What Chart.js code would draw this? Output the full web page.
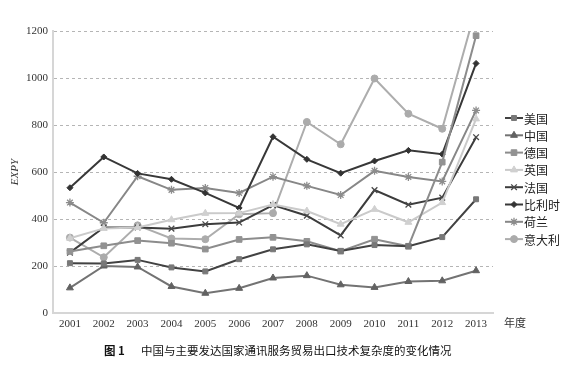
<!DOCTYPE html>
<html lang="zh">
<head>
  <meta charset="UTF-8">
  <title>中国与主要发达国家通讯服务贸易出口技术复杂度的变化情况</title>
  <script src="https://cdn.jsdelivr.net/npm/chart.js"></script>
  <style>
    body { margin: 0; background: #fff; }
    .wrap { position: relative; width: 569px; height: 367px; }
    .wrap canvas { position: absolute; left: 0; top: 0; }
    .caption {
      position: absolute; left: 104px; top: 342px;
      font-family: "Noto Sans CJK SC", sans-serif; font-size: 11.5px; color: #111;
      white-space: nowrap;
    }
    .caption b { margin-right: 16px; }
  </style>
</head>
<body>
  <div class="wrap">
    <canvas id="chart" width="569" height="367"></canvas>
    <div class="caption"><b>图 1</b>中国与主要发达国家通讯服务贸易出口技术复杂度的变化情况</div>
  </div>

  <script>
    // years on the x axis
    const years = ['2001', '2002', '2003', '2004', '2005', '2006', '2007', '2008', '2009', '2010', '2011', '2012', '2013'];

    // EXPY values
    const usa         = [212, 211, 226, 194, 177, 229, 271, 292, 264, 289, 284, 323, 484];
    const china       = [107, 200, 196, 113, 84, 105, 149, 159, 120, 109, 134, 137, 180];
    const germany     = [262, 286, 308, 297, 272, 313, 322, 305, 263, 314, 284, 642, 1180];
    const uk          = [318, 360, 364, 397, 424, 425, 462, 434, 378, 441, 386, 470, 826];
    const france      = [257, 364, 364, 359, 378, 385, 459, 414, 330, 523, 461, 491, 748];
    const belgium     = [533, 664, 594, 569, 511, 447, 750, 654, 595, 647, 692, 676, 1062];
    const netherlands = [470, 384, 582, 524, 532, 511, 580, 541, 502, 605, 579, 560, 862];
    const italy       = [321, 237, 373, 317, 314, 420, 425, 813, 718, 998, 848, 784, 1300];

    const yTicks = [0, 200, 400, 600, 800, 1000, 1200];

    function series(label, data, line, fill, style, radius) {
      return {
        label: label,
        data: data,
        borderColor: line,
        backgroundColor: fill,
        pointBackgroundColor: fill,
        pointBorderColor: fill,
        pointStyle: style,
        pointRadius: radius,
        pointBorderWidth: style === 'crossRot' || style === 'star' ? 1.3 : 1,
        borderWidth: 2,
        tension: 0,
        clip: { left: 10, right: 10, top: 0, bottom: 10 }
      };
    }

    const datasets = [
      series('美国', usa, '#424242', '#787878', 'rect', 3.5),
      series('中国', china, '#737373', '#626262', 'triangle', 4),
      series('德国', germany, '#8c8c8c', '#929292', 'rect', 4),
      series('英国', uk, '#cacaca', '#d0d0d0', 'triangle', 4),
      series('法国', france, '#3c3c3c', '#4a4a4a', 'crossRot', 4),
      series('比利时', belgium, '#383838', '#333333', 'rectRot', 3),
      series('荷兰', netherlands, '#878787', '#8c8c8c', 'star', 4),
      series('意大利', italy, '#adadad', '#ababab', 'circle', 3.5)
    ];

    // legend on the right, drawn as line + marker + label
    const sideLegend = {
      id: 'sideLegend',
      afterDraw(chart) {
        const ctx = chart.ctx;
        ctx.save();
        chart.data.datasets.forEach((ds, i) => {
          const y = 118 + i * 17.3;
          ctx.strokeStyle = ds.borderColor;
          ctx.lineWidth = 2;
          ctx.beginPath();
          ctx.moveTo(505, y);
          ctx.lineTo(523, y);
          ctx.stroke();
          ctx.fillStyle = ds.pointBackgroundColor;
          ctx.strokeStyle = ds.pointBorderColor;
          ctx.lineWidth = ds.pointBorderWidth;
          Chart.helpers.drawPoint(ctx, { pointStyle: ds.pointStyle, radius: ds.pointRadius, rotation: 0, borderWidth: ds.pointBorderWidth }, 514, y);
          ctx.fillStyle = '#222';
          ctx.font = '12px "Noto Sans CJK SC", sans-serif';
          ctx.textBaseline = 'middle';
          ctx.textAlign = 'left';
          ctx.fillText(ds.label, 524, y + 1);
        });
        // unit of the x axis
        ctx.fillStyle = '#333';
        ctx.font = '11px "Noto Sans CJK SC", sans-serif';
        ctx.fillText('年度', 504, 323);
        ctx.restore();
      }
    };

    new Chart(document.getElementById('chart'), {
      type: 'line',
      data: { labels: years, datasets: datasets },
      plugins: [sideLegend],
      options: {
        responsive: false,
        animation: false,
        layout: { padding: { top: 31, right: 76, bottom: 0, left: 0 } },
        plugins: { legend: { display: false }, tooltip: { enabled: false } },
        scales: {
          x: {
            offset: true,
            grid: { display: false, drawTicks: false },
            border: { display: true, color: '#d6d6d6', width: 2 },
            ticks: {
              color: '#333', padding: 5, maxRotation: 0,
              font: { family: 'Liberation Serif', size: 11 }
            },
            afterFit(scale) { scale.height = 54; }
          },
          y: {
            min: 0,
            max: 1200,
            afterBuildTicks(scale) { scale.ticks = yTicks.map(v => ({ value: v })); },
            grid: { color: '#b5b5b5', lineWidth: 1, drawTicks: false },
            border: { display: true, color: '#d6d6d6', width: 2, dash: [3, 3] },
            ticks: {
              color: '#333', padding: 5,
              callback: v => String(v),
              font: { family: 'Liberation Serif', size: 11 }
            },
            title: {
              display: true,
              text: 'EXPY',
              color: '#333',
              padding: { top: 9, bottom: 0 },
              font: { family: 'Liberation Serif', size: 11, style: 'italic' }
            },
            afterFit(scale) { scale.width = 53; }
          }
        }
      }
    });
  </script>
</body>
</html>
